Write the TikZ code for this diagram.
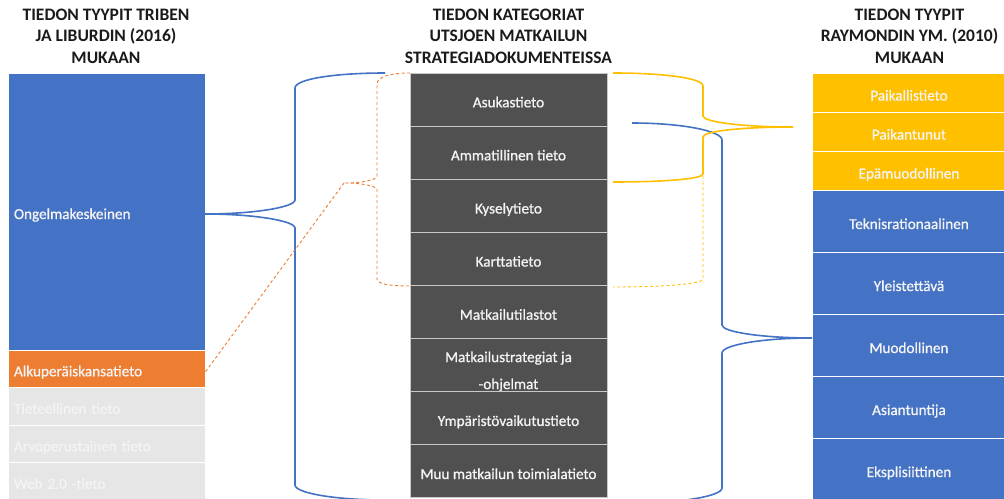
\documentclass[tikz,border=0pt]{standalone}
\usepackage{fontspec}
\setmainfont{Carlito}
\newfontfamily\cellfont[FakeBold=0.9]{Carlito}
\definecolor{cblue}{HTML}{4472C4}
\definecolor{corange}{HTML}{ED7D31}
\definecolor{cyellow}{HTML}{FFC000}
\definecolor{cdark}{HTML}{505050}
\definecolor{clight}{HTML}{E6E6E6}
\definecolor{ctext}{HTML}{F4F4F4}
\definecolor{chead}{HTML}{1A1A1A}
\definecolor{csep}{HTML}{C8C8C8}
\tikzset{
  headtext/.style={align=center, text=chead, inner sep=0pt,
    font=\fontsize{17.5}{21.5}\selectfont\bfseries},
  ccell/.style={rectangle, inner sep=0pt, align=center, text=ctext,
    fill=cdark, draw=csep, line width=1pt, minimum width=197pt,
    minimum height=53.1pt, text height=15.4pt, text depth=0pt,
    font=\fontsize{15.2}{27}\cellfont},
  lcell/.style={rectangle, inner xsep=6pt, inner ysep=0pt, align=left,
    text width=185pt, text=ctext, draw=white, line width=1pt,
    minimum width=197pt, text height=15pt, text depth=0pt,
    font=\fontsize{15.2}{18}\cellfont},
  rcell/.style={rectangle, inner sep=0pt, align=center, text=ctext,
    draw=white, line width=1pt, minimum width=194pt,
    text height=16pt, text depth=0pt,
    font=\fontsize{15.2}{18}\cellfont},
  bluebrace/.style={draw=cblue, line width=1.6pt},
  yellowbrace/.style={draw=cyellow, line width=1.6pt},
  orangedash/.style={draw=corange, line width=0.9pt, dash pattern=on 3pt off 2.5pt},
  yellowdash/.style={draw=cyellow, line width=0.9pt, dash pattern=on 3pt off 2.5pt},
}
\begin{document}
\begin{tikzpicture}[x=1pt,y=-1pt]
\useasboundingbox (0,0) rectangle (1004,498);
\begin{scope}
\clip (0,0) rectangle (1004,498);
\fill[white] (0,0) rectangle (1004,498);

% headers
\node[headtext] (h1) at (106,36) {TIEDON TYYPIT TRIBEN\\JA LIBURDIN (2016)\\MUKAAN};
\node[headtext] (h2) at (508.5,36) {TIEDON KATEGORIAT\\UTSJOEN MATKAILUN\\STRATEGIADOKUMENTEISSA};
\node[headtext] (h3) at (909.5,36) {TIEDON TYYPIT\\RAYMONDIN YM. (2010)\\MUKAAN};

% left column
\node[lcell, fill=cblue, minimum height=277pt] (ong) at (106.5,211.5) {Ongelmakeskeinen};
\node[lcell, fill=corange, minimum height=37.5pt] (alku) at (106.5,368.75) {Alkuperäiskansatieto};
\node[lcell, fill=clight, minimum height=37.5pt] (tiet) at (106.5,406.25) {Tieteellinen tieto};
\node[lcell, fill=clight, minimum height=37.5pt] (arvo) at (106.5,443.75) {Arvoperustainen tieto};
\node[lcell, fill=clight, minimum height=37.5pt] (web) at (106.5,481.25) {Web 2.0 -tieto};

% center column
\node[ccell] (k1) at (508.5,99.6) {Asukastieto};
\node[ccell] (k2) at (508.5,152.7) {Ammatillinen tieto};
\node[ccell] (k3) at (508.5,205.8) {Kyselytieto};
\node[ccell] (k4) at (508.5,258.9) {Karttatieto};
\node[ccell] (k5) at (508.5,312.0) {Matkailutilastot};
\node[ccell, text height=48pt, text depth=0pt] (k6) at (508.5,365.1) {Matkailustrategiat ja\\-ohjelmat};
\node[ccell] (k7) at (508.5,418.2) {Ympäristövaikutustieto};
\node[ccell] (k8) at (508.5,471.3) {Muu matkailun toimialatieto};

% right column
\node[rcell, fill=cyellow, minimum height=39pt] (r1) at (909,92.5) {Paikallistieto};
\node[rcell, fill=cyellow, minimum height=39pt] (r2) at (909,131.5) {Paikantunut};
\node[rcell, fill=cyellow, minimum height=39pt] (r3) at (909,170.5) {Epämuodollinen};
\node[rcell, fill=cblue, minimum height=62pt] (r4) at (909,221) {Teknisrationaalinen};
\node[rcell, fill=cblue, minimum height=62pt] (r5) at (909,283) {Yleistettävä};
\node[rcell, fill=cblue, minimum height=62pt] (r6) at (909,345) {Muodollinen};
\node[rcell, fill=cblue, minimum height=62pt] (r7) at (909,407) {Asiantuntija};
\node[rcell, fill=cblue, minimum height=62pt] (r8) at (909,469) {Eksplisiittinen};

% brace coordinates
\coordinate (bltip) at (205,214);
\coordinate (otip) at (344,183);
\coordinate (ytip) at (793,127);
\coordinate (brtip) at (812,338);

% left blue brace
\draw[bluebrace] (385,73) .. controls (335,73) and (295,79) .. (295,88)
  -- (295,200) .. controls (295,207) and (255,214) .. (bltip)
  .. controls (255,214) and (295,221) .. (295,228)
  -- (295,485) .. controls (295,493) and (335,500) .. (385,500);

% orange dashed brace and connector
\draw[orangedash] (410,73) .. controls (390,73) and (377,77) .. (377,84)
  -- (377,176) .. controls (377,180) and (362,183) .. (otip)
  .. controls (362,183) and (377,186) .. (377,190)
  -- (377,279) .. controls (377,284) and (390,286) .. (410,286);
\draw[orangedash] (otip) -- ([yshift=-3pt]alku.east);

% right blue brace
\draw[bluebrace] (632,123) .. controls (682,123) and (722,131) .. (722,140)
  -- (722,325) .. controls (722,332) and (762,338) .. (brtip)
  .. controls (762,338) and (722,345) .. (722,353)
  -- (722,488) .. controls (722,496) and (682,503) .. (632,503);

% yellow braces
\draw[yellowdash] (703,176) -- (703,279) .. controls (703,284) and (663,287) .. (613,287);
\draw[yellowbrace] (613,73) .. controls (663,73) and (703,78) .. (703,86)
  -- (703,116) .. controls (703,122) and (743,127) .. (ytip)
  .. controls (743,127) and (703,131) .. (703,137)
  -- (703,174) .. controls (703,179) and (663,182) .. (613,182);
\end{scope}
\end{tikzpicture}
\end{document}
